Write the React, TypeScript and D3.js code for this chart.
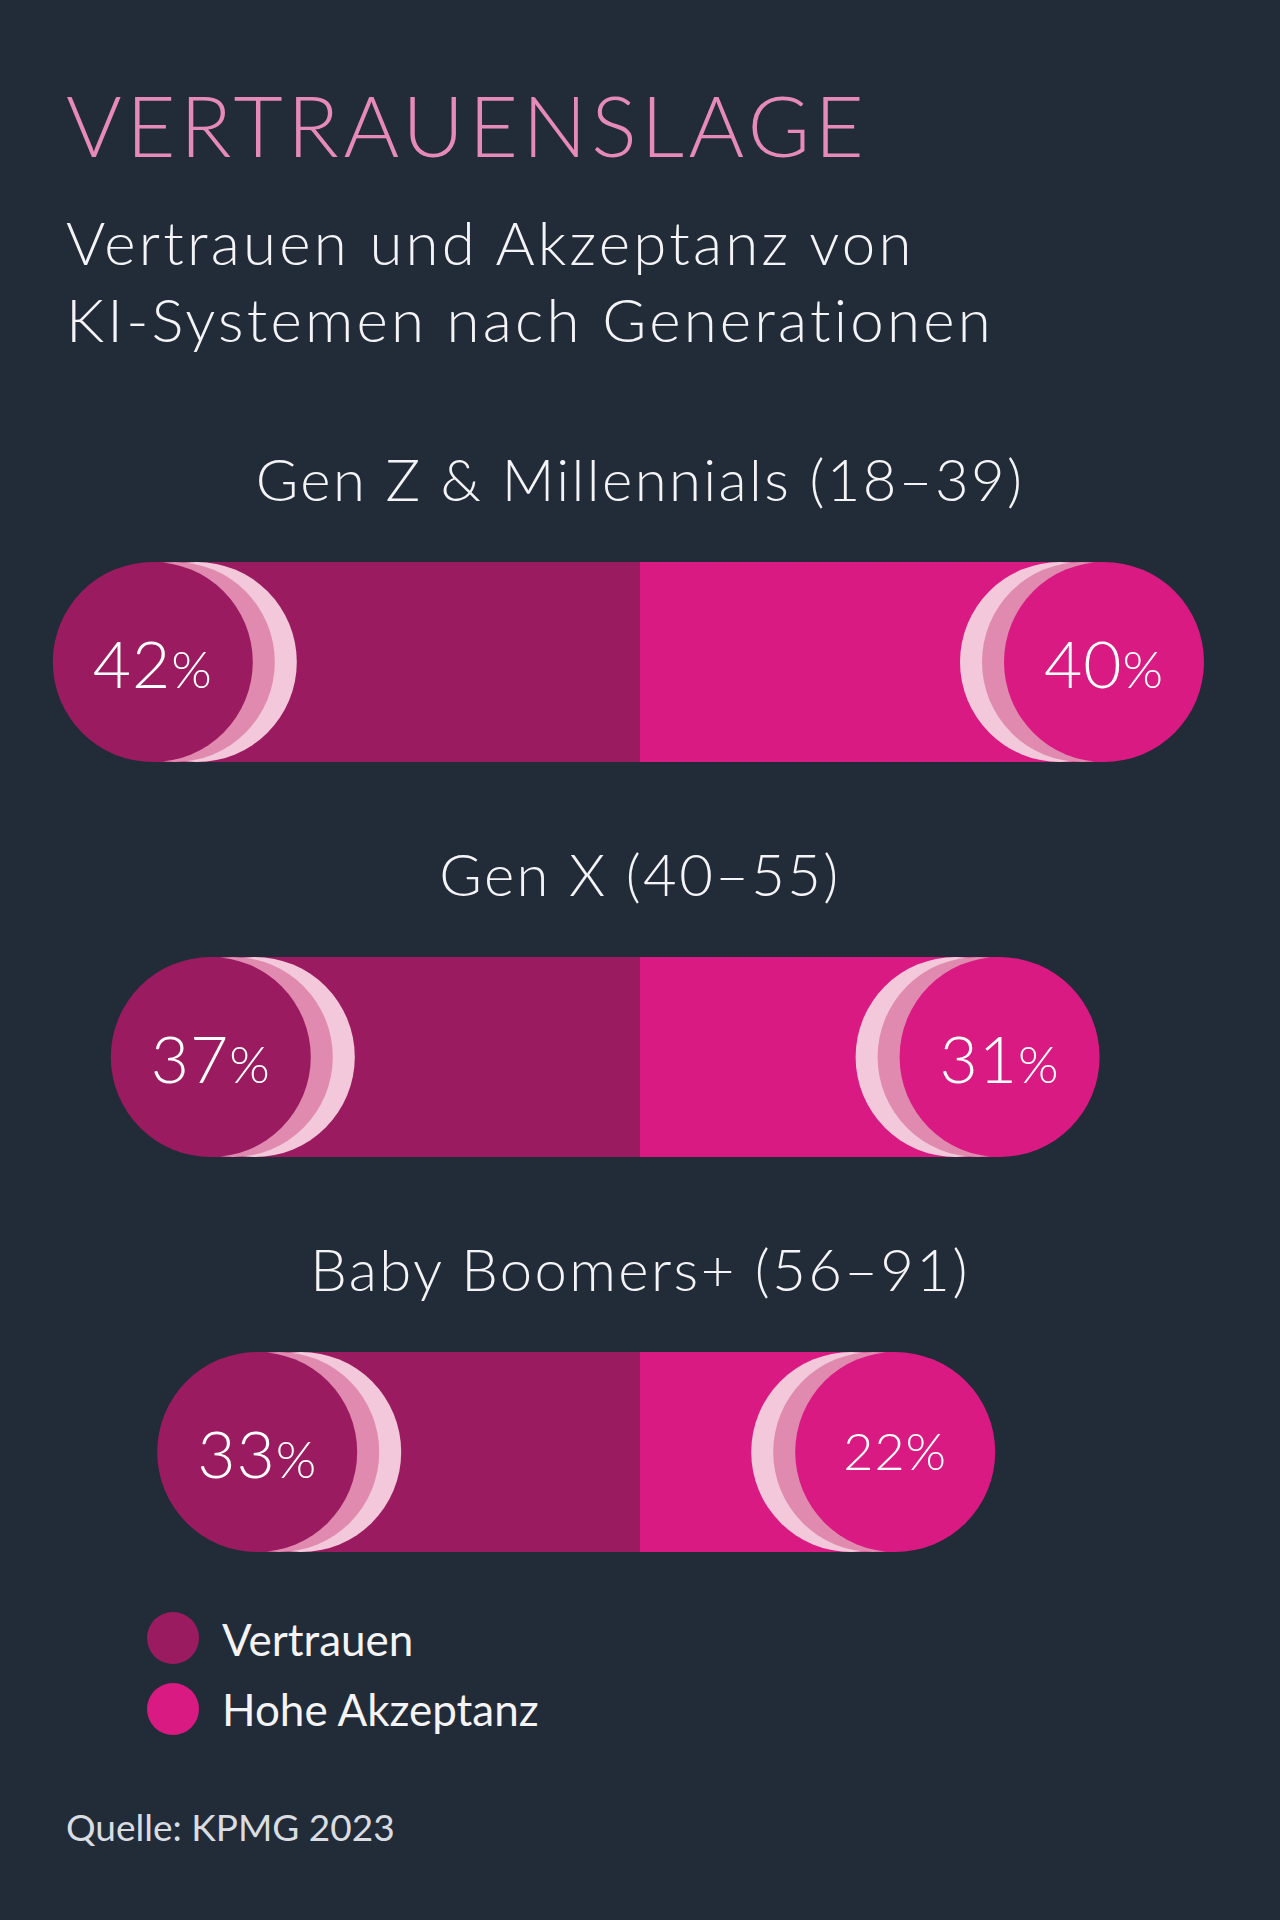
import React from "react";
import * as d3 from "d3";

const categories = ["Gen Z & Millennials (18–39)", "Gen X (40–55)", "Baby Boomers+ (56–91)"];
const vertrauen = [42, 37, 33];
const akzeptanz = [40, 31, 22];
const seriesNames = ["Vertrauen", "Hohe Akzeptanz"];

const title = "VERTRAUENSLAGE";
const subtitleLines = ["Vertrauen und Akzeptanz von", "KI-Systemen nach Generationen"];
const source = "Quelle: KPMG 2023";

const W = 1280;
const H = 1920;
const BG = "#222b38";
const DARK = "#9b1b60";
const MAGENTA = "#d91a82";
const MID = "#e08ab0";
const LIGHT = "#f3c8da";
const TITLE_PINK = "#e68bb9";
const TEXT = "#f4f4f6";
const FONT = "Lato, 'Open Sans', sans-serif";

export default function App() {
  const cx = 640;
  const r = 100;
  const x = d3.scaleLinear().domain([0, 100]).range([0, 1160]);
  const y = d3.scalePoint<string>().domain(categories).range([662, 1452]);
  const offsets = [44, 22, 0];
  const fills = [LIGHT, MID];

  const label = (v: number, px: number, py: number) => {
    const compact = v < 25;
    return (
      <text x={px} y={py + (compact ? 18 : 26)} textAnchor="middle" fill="#fff" fontFamily={FONT} fontWeight={300}
        fontSize={compact ? 52 : 66} letterSpacing={1}>
        {v}
        <tspan fontSize={52}>%</tspan>
      </text>
    );
  };

  return (
    <svg width={W} height={H} style={{ position: "absolute", left: 0, top: 0 }}>
      <rect width={W} height={H} fill={BG} />
      <text x={66} y={157} fill={TITLE_PINK} fontFamily={FONT} fontWeight={300} fontSize={85} letterSpacing={4.5}>{title}</text>
      {subtitleLines.map((s, i) => (
        <text key={s} x={66} y={265 + i * 77} fill={TEXT} fontFamily={FONT} fontWeight={300} fontSize={60} letterSpacing={3.2}>{s}</text>
      ))}
      {categories.map((c, i) => {
        const cy = y(c)!;
        const lx = cx - x(vertrauen[i]);
        const rx = cx + x(akzeptanz[i]);
        return (
          <g key={c}>
            <text x={cx} y={cy - 161} textAnchor="middle" fill={TEXT} fontFamily={FONT} fontWeight={300} fontSize={58} letterSpacing={2.4}>{c}</text>
            <rect x={lx} y={cy - r} width={cx - lx} height={2 * r} fill={DARK} />
            <rect x={cx} y={cy - r} width={rx - cx} height={2 * r} fill={MAGENTA} />
            {offsets.map((o, k) => (
              <circle key={"l" + k} cx={lx + o} cy={cy} r={r} fill={k < 2 ? fills[k] : DARK} />
            ))}
            {offsets.map((o, k) => (
              <circle key={"r" + k} cx={rx - o} cy={cy} r={r} fill={k < 2 ? fills[k] : MAGENTA} />
            ))}
            {label(vertrauen[i], lx, cy)}
            {label(akzeptanz[i], rx, cy)}
          </g>
        );
      })}
      {seriesNames.map((s, i) => (
        <g key={s}>
          <circle cx={173} cy={1638 + i * 71} r={26} fill={i === 0 ? DARK : MAGENTA} />
          <text x={222} y={1656 + i * 70} fill={TEXT} fontFamily={FONT} fontWeight={400} fontSize={44}>{s}</text>
        </g>
      ))}
      <text x={66} y={1841} fill="#d9dde2" fontFamily={FONT} fontWeight={400} fontSize={37}>{source}</text>
    </svg>
  );
}
